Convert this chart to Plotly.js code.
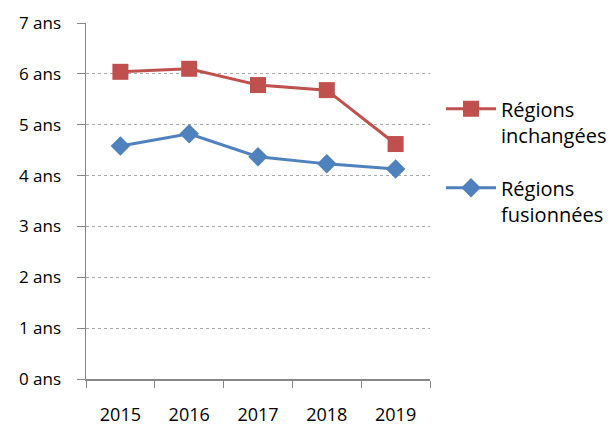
<!DOCTYPE html>
<html><head><meta charset="utf-8">
<script src="https://cdn.plot.ly/plotly-3.0.1.min.js"></script>
<style>html,body{margin:0;padding:0;background:#fff}#c{width:610px;height:425px}</style>
</head><body><div id="c"></div>
<script>
const years = ["2015","2016","2017","2018","2019"];
const inchangees = [6.04, 6.10, 5.78, 5.68, 4.62];
const fusionnees = [4.58, 4.82, 4.37, 4.23, 4.13];
const yTickVals = [0,1,2,3,4,5,6,7];
const yTickText = ["0 ans","1 ans","2 ans","3 ans","4 ans","5 ans","6 ans","7 ans"];
const nameInch = "Régions<br>inchangées";
const nameFus = "Régions<br>fusionnées";

const font = "'Open Sans', sans-serif";
const traces = [
  {x: years, y: inchangees, name: nameInch, legendgroup: "inch", type: "scatter", mode: "lines+markers",
   line: {color: "#C0504D", width: 3}, marker: {symbol: "square", size: 16, color: "#C0504D"}},
  {x: years, y: fusionnees, name: nameFus, legendgroup: "fus", type: "scatter", mode: "lines+markers",
   line: {color: "#4F81BD", width: 3}, marker: {symbol: "diamond", size: 15, color: "#4F81BD"}}
];
const layout = {
  width: 610, height: 425,
  margin: {l: 86, r: 180, t: 23, b: 46},
  paper_bgcolor: "#fff", plot_bgcolor: "#fff",
  font: {family: font, size: 17, color: "#000"},
  showlegend: true,
  legend: {xref: "container", yref: "container", x: 0.723, y: 0.79,
           xanchor: "left", yanchor: "top", font: {size: 20},
           traceorder: "grouped", valign: "top", tracegroupgap: 24, itemwidth: 50,
           bgcolor: "rgba(0,0,0,0)"},
  xaxis: {type: "category", range: [-0.5, 4.5], showgrid: false,
          showline: true, linecolor: "#868686", linewidth: 1.5,
          ticks: "outside", ticklen: 7, tickcolor: "#868686", tickson: "boundaries",
          tickfont: {size: 18},
          ticklabelstandoff: 19, zeroline: false, fixedrange: true},
  yaxis: {range: [0, 7], tickvals: yTickVals, ticktext: yTickText,
          showgrid: true, gridcolor: "#aaa", griddash: "dot", gridwidth: 1,
          showline: true, linecolor: "#868686", linewidth: 1.5,
          ticks: "outside", ticklen: 8, tickcolor: "#868686",
          tickfont: {size: 17},
          ticklabelstandoff: 12, zeroline: false, fixedrange: true}
};
Plotly.newPlot("c", traces, layout, {displayModeBar: false, staticPlot: true});
</script></body></html>
